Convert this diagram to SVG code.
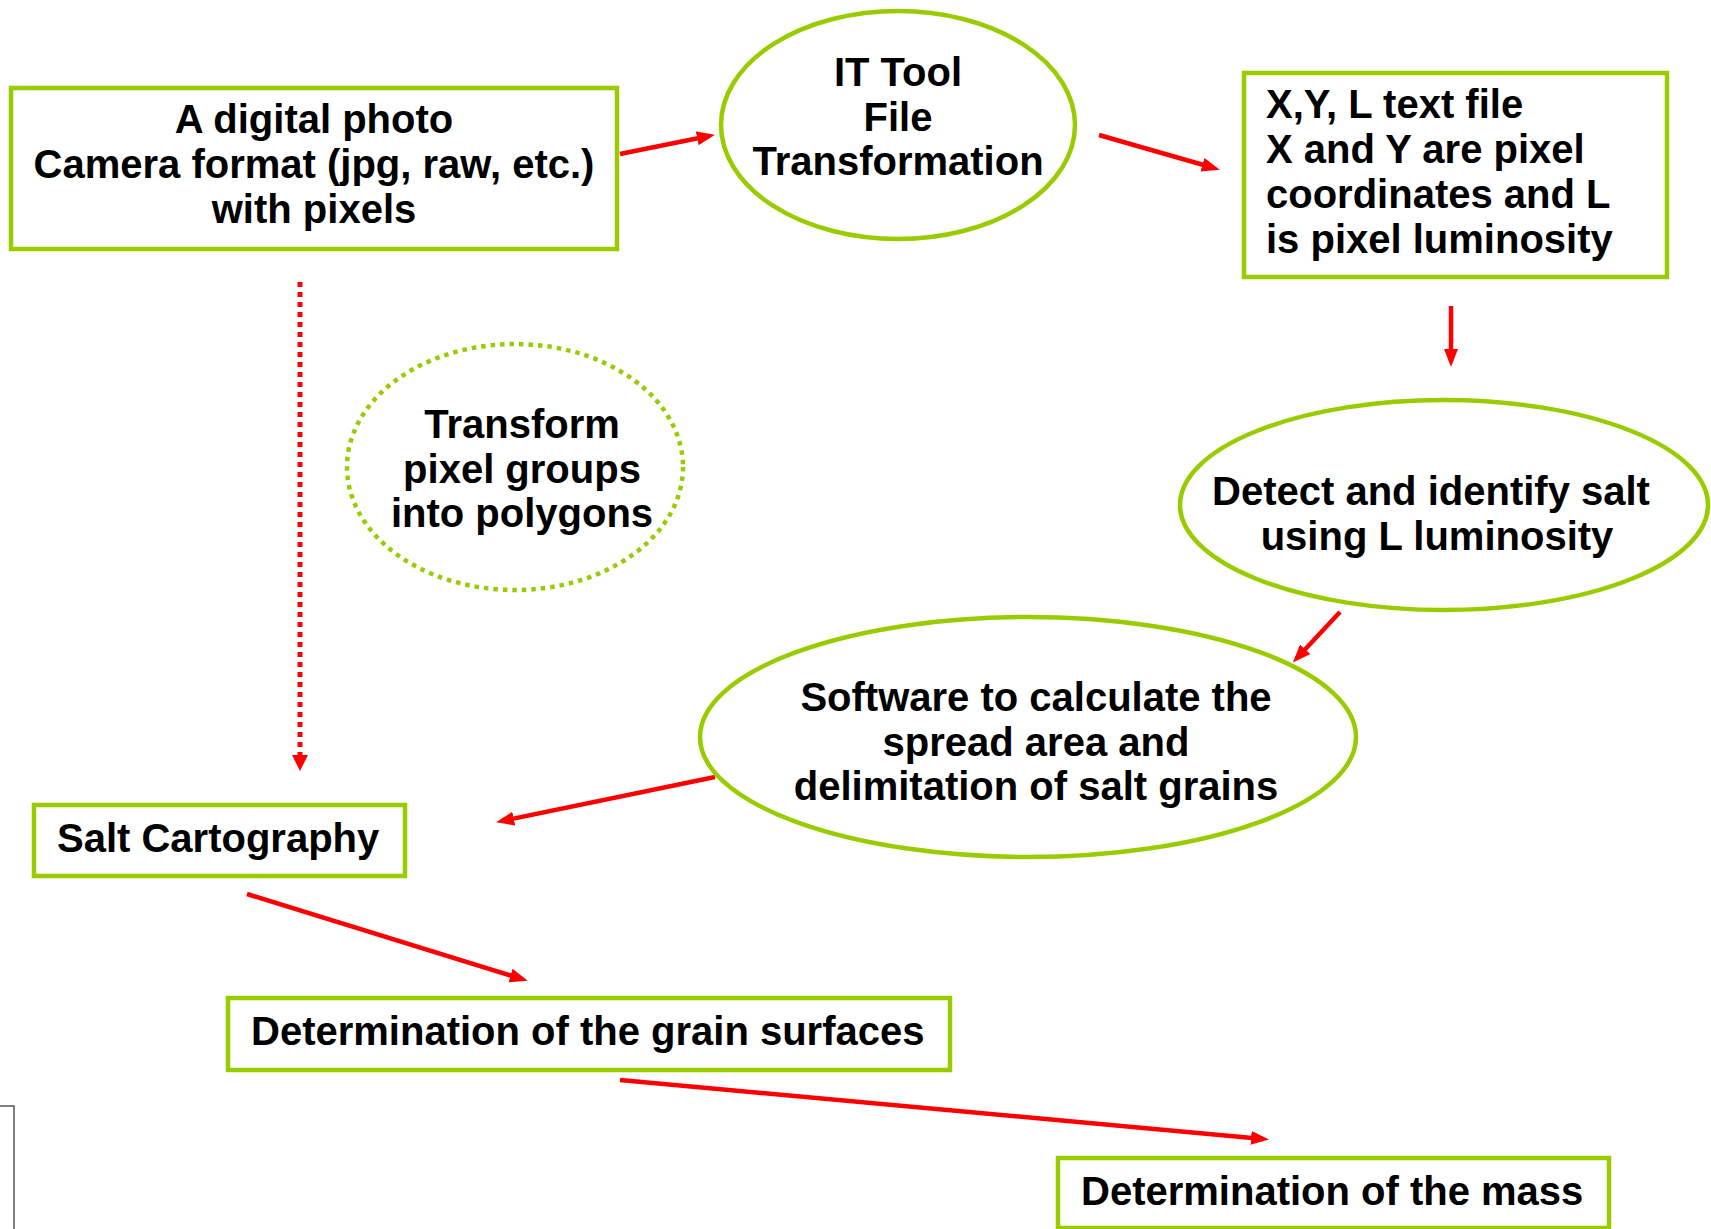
<svg xmlns="http://www.w3.org/2000/svg" width="1711" height="1229" viewBox="0 0 1711 1229">
<style>
.box{fill:#fff;stroke:#99CC00;stroke-width:4.5}
.ell{fill:#fff;stroke:#99CC00;stroke-width:4.5}
.dot{fill:none;stroke:#99CC00;stroke-width:4.5;stroke-dasharray:4.5 5}
.t{font-family:"Liberation Sans",Arial,sans-serif;font-weight:bold;font-size:40px;fill:#000}
.m{text-anchor:middle}
.arr{stroke:#FF0000;stroke-width:4.5;fill:none;marker-end:url(#ah)}
.darr{stroke:#FF0000;stroke-width:5;fill:none;stroke-dasharray:5 5;marker-end:url(#ahd)}
</style>
<defs>
<marker id="ah" markerUnits="userSpaceOnUse" markerWidth="20" markerHeight="16" refX="12" refY="7" orient="auto">
<path d="M0,0 L18,7 L0,14 Z" fill="#FF0000"/>
</marker>
<marker id="ahd" markerUnits="userSpaceOnUse" markerWidth="20" markerHeight="18" refX="6" refY="8" orient="auto">
<path d="M0,0 L16,8 L0,16 Z" fill="#FF0000"/>
</marker>
</defs>
<rect width="1711" height="1229" fill="#fff"/>
<g id="connectors">
<line class="arr" x1="620" y1="154" x2="709" y2="136"/>
<line class="arr" x1="1099" y1="135" x2="1214" y2="168"/>
<line class="arr" x1="1451" y1="306" x2="1451" y2="361"/>
<line class="arr" x1="1340" y1="612" x2="1297" y2="658"/>
<line class="arr" x1="715" y1="777" x2="502" y2="821"/>
<line class="arr" x1="247" y1="894" x2="522" y2="979"/>
<line class="arr" x1="620" y1="1080" x2="1263" y2="1139"/>
<line class="darr" x1="300" y1="282" x2="300" y2="761"/>
</g>
<g id="n-photo">
<rect class="box" x="11" y="88" width="606" height="161"/>
<text class="t m" x="314" y="133">A digital photo</text>
<text class="t m" x="314" y="178">Camera format (jpg, raw, etc.)</text>
<text class="t m" x="314" y="223">with pixels</text>
</g>
<g id="n-ittool">
<ellipse class="ell" cx="898" cy="125" rx="177" ry="114"/>
<text class="t m" x="898" y="86">IT Tool</text>
<text class="t m" x="898" y="131">File</text>
<text class="t m" x="898" y="175">Transformation</text>
</g>
<g id="n-xyl">
<rect class="box" x="1244" y="73" width="423" height="204"/>
<text class="t" x="1266" y="118">X,Y, L text file</text>
<text class="t" x="1266" y="163">X and Y are pixel</text>
<text class="t" x="1266" y="208">coordinates and L</text>
<text class="t" x="1266" y="253">is pixel luminosity</text>
</g>
<g id="n-detect">
<ellipse class="ell" cx="1444" cy="505" rx="264" ry="105"/>
<text class="t m" x="1431" y="505">Detect and identify salt</text>
<text class="t m" x="1437" y="550">using L luminosity</text>
</g>
<g id="n-software">
<ellipse class="ell" cx="1028" cy="737" rx="328" ry="120"/>
<text class="t m" x="1036" y="711">Software to calculate the</text>
<text class="t m" x="1036" y="756">spread area and</text>
<text class="t m" x="1036" y="800">delimitation of salt grains</text>
</g>
<g id="n-transform">
<ellipse class="dot" cx="515" cy="467" rx="168" ry="123"/>
<text class="t m" x="522" y="438">Transform</text>
<text class="t m" x="522" y="483">pixel groups</text>
<text class="t m" x="522" y="527">into polygons</text>
</g>
<g id="n-salt">
<rect class="box" x="34" y="805" width="371" height="71"/>
<text class="t" x="57" y="852">Salt Cartography</text>
</g>
<g id="n-grain">
<rect class="box" x="228" y="998" width="722" height="72"/>
<text class="t" x="251" y="1045">Determination of the grain surfaces</text>
</g>
<g id="n-mass">
<rect class="box" x="1058" y="1158" width="551" height="70"/>
<text class="t" x="1081" y="1205">Determination of the mass</text>
</g>
<path d="M0,1106 H14 V1229" fill="none" stroke="#555" stroke-width="1.5"/>
</svg>
